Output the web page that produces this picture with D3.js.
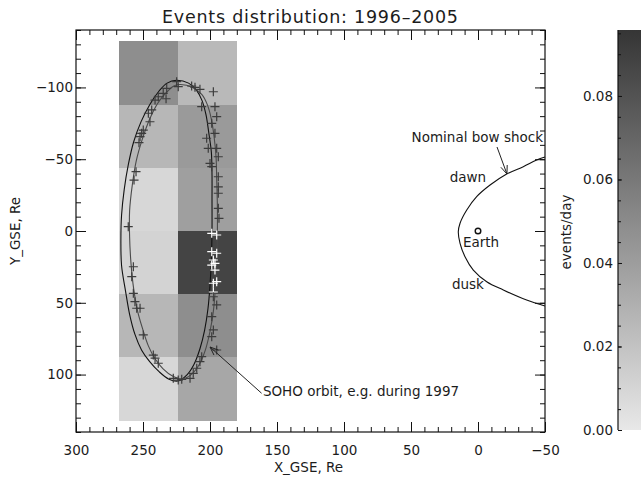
<!DOCTYPE html>
<html>
<head>
<meta charset="utf-8">
<script src="https://cdn.jsdelivr.net/npm/d3@7"></script>
<style>
  html, body { margin: 0; padding: 0; background: #fff; }
  svg { display: block; }
  text { font-family: "DejaVu Sans", sans-serif; fill: #1c1c1c; }
</style>
</head>
<body>
<svg id="chart" width="641" height="479"></svg>
<script>
// ---- data (GSE coordinates in Earth radii, rates in events/day) ----
const xTicks = [300, 250, 200, 150, 100, 50, 0, -50];
const yTicks = [-100, -50, 0, 50, 100];
const cbTicks = [0, 0.02, 0.04, 0.06, 0.08];
const rateMax = 0.0958;

// bin edges of the event-rate map
const xBinEdges = [268, 224, 180];
const yBinEdges = [-132, -88, -44, 0, 44, 88, 132];
// event rate per bin, one value per Y row (top to bottom)
const rateOuterColumn = [0.048, 0.026, 0.009, 0.011, 0.026, 0.009];   // X 268..224
const rateInnerColumn = [0.025, 0.042, 0.039, 0.088, 0.048, 0.035];   // X 224..180

// SOHO halo orbit, two consecutive revolutions [X, Y]
const orbitLoopA = [
  [225,-105],[216,-103],[210,-98],[206,-91],[203,-81],[201,-69],[199,-55],[198.5,-39],
  [198.5,-22],[198.5,-1],[199,20],[200,38],[201.5,54],[204,69],[207.5,82],[212,93],
  [217,100],[224,104.5],[231,103],[238,98],[245,91],[251,83],[256,72],[260,58],
  [263,42],[266,24],[266.5,6],[266,-11],[264,-29],[261,-46],[257,-62],[251.5,-76],
  [245,-88],[238,-97.5],[232,-103]
];
const orbitLoopB = [
  [222,-102],[213,-100],[206,-95],[202,-88],[199,-78],[197,-66],[195.5,-52],[195,-36],
  [194.5,-18],[194.5,2],[195,22],[196,40],[197.5,56],[200,70],[203.5,83],[208,93],
  [214,100],[221,103],[228,101],[235,96],[241,89],[246,80],[250,69],[254,56],
  [257,40],[259,22],[260,4],[260,-14],[258,-32],[255,-49],[250.5,-64],[245,-78],
  [239,-89],[232,-97],[227,-101]
];

// spacecraft positions at the recorded events [X, Y]
const eventPositions = [
  [224.9,-104.0],[223.7,-100.5],[232.3,-99.4],[234.9,-95.9],[238.6,-93.5],[241.0,-91.2],
  [232.8,-92.1],[246.0,-82.0],[243.5,-84.3],[244.8,-76.1],[249.8,-70.3],[251.0,-68.0],
  [252.2,-65.7],[253.0,-61.5],[255.2,-41.3],[256.7,-35.5],[261.0,-3.0],
  [213.7,-101.0],[211.2,-100.1],[207.5,-98.7],[197.5,-97.0],[196.3,-86.6],[195.0,-79.6],
  [206.2,-86.6],[198.7,-75.0],[196.3,-68.0],[202.5,-64.6],[195.0,-57.6],[201.3,-57.6],
  [200.0,-47.1],[198.7,-44.8],[193.8,-51.7],[193.8,-37.8],[193.8,-30.8],[193.8,-26.3],
  [193.8,-15.8],[193.3,-8.8],
  [198.7,1.6],[195.0,2.8],[198.7,14.4],[195.0,15.5],[197.5,20.2],[196.3,22.5],
  [198.7,23.7],[196.3,27.2],[197.5,36.4],[195.0,35.3],[197.5,42.5],
  [197.5,45.8],[195.0,51.5],[198.7,59.7],[197.5,68.9],[198.7,73.6],[195.0,82.9],
  [206.2,87.5],[207.5,91.0],[209.9,95.6],[212.5,99.1],[214.9,102.6],[221.1,103.3],
  [223.7,103.8],
  [257.2,24.9],[258.4,31.8],[257.2,43.4],[256.0,49.2],[254.7,53.8],[252.2,53.8],
  [249.8,72.4],[242.3,86.4],[241.0,88.6],[238.6,92.1],[227.4,102.6]
];

// nominal bow shock [X, Y]
const bowShock = [
  [-50,-51.5],[-43.8,-49.4],[-33.8,-44.8],[-21.4,-39.7],[-9.0,-32.0],[1.0,-23.9],
  [8.4,-14.6],[13.4,-5.4],[14.7,0.5],[13.4,8.6],[9.7,17.9],[3.5,27.2],
  [-6.5,35.3],[-18.9,41.1],[-36.3,48.1],[-50,52.2]
];

// ---- layout ----
const svg = d3.select("#chart");
const plot = { left: 76, right: 545, top: 30, bottom: 432 };
const x = d3.scaleLinear().domain([300, -50]).range([plot.left, plot.right]);
const y = d3.scaleLinear().domain([-140, 140]).range([plot.top, plot.bottom]);
const shade = d3.scaleLinear().domain([0, rateMax]).range(["#e8e8e8", "#353535"]);
const FS = 13.5;

// ---- rate map ----
const columns = [rateOuterColumn, rateInnerColumn];
const cells = [];
columns.forEach((col, j) => col.forEach((v, i) => cells.push({
  x0: xBinEdges[j], x1: xBinEdges[j + 1], y0: yBinEdges[i], y1: yBinEdges[i + 1], v
})));
svg.append("g").selectAll("rect").data(cells).join("rect")
  .attr("x", d => x(d.x0))
  .attr("y", d => y(d.y0))
  .attr("width", d => x(d.x1) - x(d.x0))
  .attr("height", d => y(d.y1) - y(d.y0))
  .attr("fill", d => shade(d.v))
  .attr("shape-rendering", "crispEdges");

function rateAt(px, py) {
  const c = cells.find(d => px <= d.x0 && px >= d.x1 && py >= d.y0 && py <= d.y1);
  return c ? c.v : 0;
}

// ---- orbit ----
const orbitLine = d3.line().x(d => x(d[0])).y(d => y(d[1])).curve(d3.curveCatmullRomClosed);
svg.append("path").datum(orbitLoopA).attr("d", orbitLine)
  .attr("fill", "none").attr("stroke", "#111").attr("stroke-width", 1.1);
svg.append("path").datum(orbitLoopB).attr("d", orbitLine)
  .attr("fill", "none").attr("stroke", "#4a4a4a").attr("stroke-width", 1.1);

// event markers
svg.append("g").selectAll("path").data(eventPositions).join("path")
  .attr("transform", d => `translate(${x(d[0])},${y(d[1])})`)
  .attr("d", "M-4.5,0H4.5M0,-4.5V4.5")
  .attr("fill", "none")
  .attr("stroke", d => rateAt(d[0], d[1]) > 0.07 ? "#ffffff" : "#3c3c3c")
  .attr("stroke-width", 1.2);

// ---- bow shock and Earth ----
svg.append("path").datum(bowShock)
  .attr("d", d3.line().x(d => x(d[0])).y(d => y(d[1])).curve(d3.curveCatmullRom))
  .attr("fill", "none").attr("stroke", "#111").attr("stroke-width", 1.1);
svg.append("circle").attr("cx", x(0)).attr("cy", y(0)).attr("r", 2.8)
  .attr("fill", "none").attr("stroke", "#111").attr("stroke-width", 1.4);

// ---- annotations ----
function arrow(x1, y1, x2, y2) {
  const a = Math.atan2(y2 - y1, x2 - x1), L = 9, w = 0.38;
  const p = `M${x1},${y1}L${x2},${y2}` +
    `M${x2 - L * Math.cos(a - w)},${y2 - L * Math.sin(a - w)}L${x2},${y2}` +
    `L${x2 - L * Math.cos(a + w)},${y2 - L * Math.sin(a + w)}`;
  svg.append("path").attr("d", p).attr("fill", "none")
    .attr("stroke", "#222").attr("stroke-width", 1);
}
function label(txt, px, py, anchor) {
  return svg.append("text").attr("x", px).attr("y", py)
    .attr("text-anchor", anchor || "start").attr("font-size", FS).text(txt);
}
arrow(x(-14.2), y(-58.5), x(-21.6), y(-39.7));
label("Nominal bow shock", x(-48.5), y(-61.7), "end");
label("dawn", x(7.5), y(-34), "middle");
label("dusk", x(7.5), y(40.5), "middle");
label("Earth", x(-2.3), y(11.3), "middle");
arrow(x(161.5), y(113), x(200), y(80.8));
label("SOHO orbit, e.g. during 1997", x(160.5), y(115.2), "start");

// ---- axes ----
function styleAxis(g) {
  g.select(".domain").remove();
  g.selectAll("line").attr("stroke", "#111");
  g.selectAll("text").attr("font-size", FS).attr("font-family", "DejaVu Sans, sans-serif")
    .attr("fill", "#1c1c1c");
}
const fmt = d3.format("d");
svg.append("g").attr("transform", `translate(0,${plot.bottom})`)
  .call(d3.axisBottom(x).tickValues(xTicks).tickSizeInner(-10).tickSizeOuter(0)
    .tickPadding(13.5).tickFormat(fmt)).call(styleAxis);
svg.append("g").attr("transform", `translate(0,${plot.bottom})`)
  .call(d3.axisBottom(x).tickValues(d3.range(-50, 301, 10)).tickSizeInner(-5)
    .tickSizeOuter(0).tickFormat("")).call(styleAxis);
svg.append("g").attr("transform", `translate(0,${plot.top})`)
  .call(d3.axisTop(x).tickValues(xTicks).tickSizeInner(-10).tickSizeOuter(0)
    .tickFormat("")).call(styleAxis);
svg.append("g").attr("transform", `translate(0,${plot.top})`)
  .call(d3.axisTop(x).tickValues(d3.range(-50, 301, 10)).tickSizeInner(-5)
    .tickSizeOuter(0).tickFormat("")).call(styleAxis);
svg.append("g").attr("transform", `translate(${plot.left},0)`)
  .call(d3.axisLeft(y).tickValues(yTicks).tickSizeInner(-10).tickSizeOuter(0)
    .tickPadding(3).tickFormat(fmt)).call(styleAxis);
svg.append("g").attr("transform", `translate(${plot.left},0)`)
  .call(d3.axisLeft(y).tickValues(d3.range(-140, 141, 10)).tickSizeInner(-5)
    .tickSizeOuter(0).tickFormat("")).call(styleAxis);
svg.append("g").attr("transform", `translate(${plot.right},0)`)
  .call(d3.axisRight(y).tickValues(yTicks).tickSizeInner(-10).tickSizeOuter(0)
    .tickFormat("")).call(styleAxis);
svg.append("g").attr("transform", `translate(${plot.right},0)`)
  .call(d3.axisRight(y).tickValues(d3.range(-140, 141, 10)).tickSizeInner(-5)
    .tickSizeOuter(0).tickFormat("")).call(styleAxis);

svg.append("rect").attr("x", plot.left).attr("y", plot.top)
  .attr("width", plot.right - plot.left).attr("height", plot.bottom - plot.top)
  .attr("fill", "none").attr("stroke", "#111").attr("stroke-width", 1.2);

// titles
svg.append("text").attr("x", 310).attr("y", 23).attr("text-anchor", "middle")
  .attr("font-size", 17.5).attr("textLength", 296).attr("lengthAdjust", "spacing")
  .text("Events distribution: 1996–2005");
svg.append("text").attr("x", 308.5).attr("y", 472).attr("text-anchor", "middle")
  .attr("font-size", FS).text("X_GSE, Re");
svg.append("text").attr("transform", "translate(19.5,231) rotate(-90)")
  .attr("text-anchor", "middle").attr("font-size", FS).text("Y_GSE, Re");

// ---- colour bar ----
const cb = d3.scaleLinear().domain([0, rateMax]).range([430, 30]);
const grad = svg.append("defs").append("linearGradient").attr("id", "rateGrad")
  .attr("x1", 0).attr("y1", 1).attr("x2", 0).attr("y2", 0);
d3.range(0, 1.0001, 0.1).forEach(t => grad.append("stop")
  .attr("offset", t).attr("stop-color", shade(t * rateMax)));
svg.append("rect").attr("x", 618).attr("y", cb(rateMax)).attr("width", 30)
  .attr("height", cb(0) - cb(rateMax)).attr("fill", "url(#rateGrad)");
svg.append("line").attr("x1", 618).attr("x2", 618).attr("y1", cb(rateMax)).attr("y2", cb(0))
  .attr("stroke", "#111").attr("stroke-width", 1.2);
svg.append("g").attr("transform", "translate(618,0)")
  .call(d3.axisLeft(cb).tickValues(cbTicks).tickSizeInner(-4).tickSizeOuter(0)
    .tickPadding(5).tickFormat(d3.format(".2f"))).call(styleAxis);
svg.append("g").attr("transform", "translate(618,0)")
  .call(d3.axisLeft(cb).tickValues(d3.range(0, 0.0951, 0.005)).tickSizeInner(-3)
    .tickSizeOuter(0).tickFormat("")).call(styleAxis);
svg.append("text").attr("transform", "translate(571,232) rotate(-90)")
  .attr("text-anchor", "middle").attr("font-size", FS).text("events/day");
</script>
</body>
</html>
